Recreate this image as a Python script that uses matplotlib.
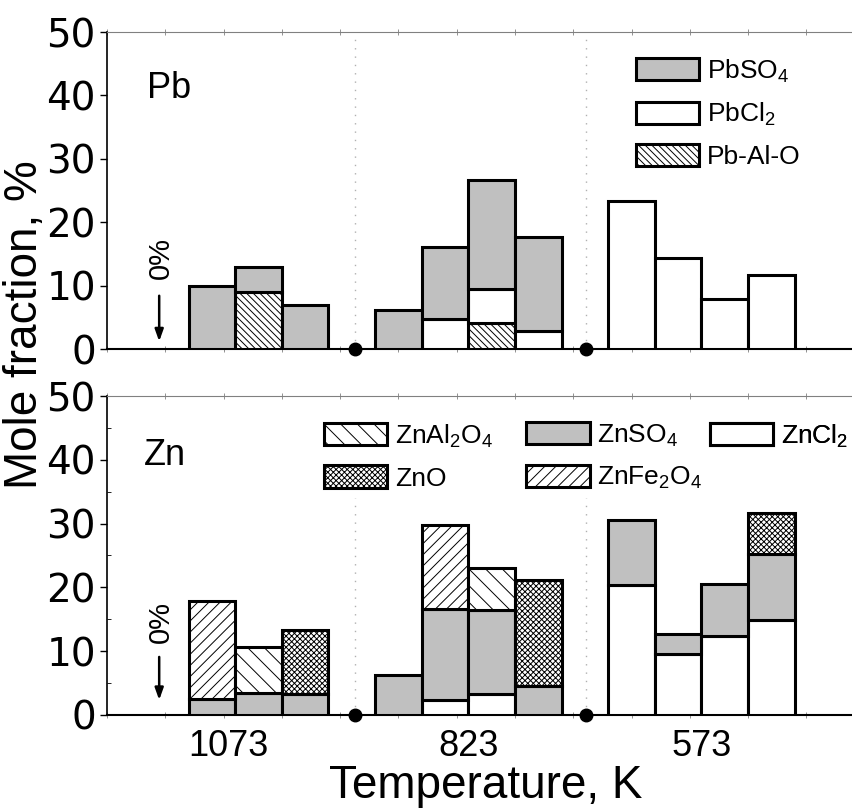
import matplotlib.pyplot as plt
import numpy as np
from matplotlib.patches import Patch

plt.rcParams['font.family'] = ['Liberation Sans', 'DejaVu Sans']
plt.rcParams['mathtext.fontset'] = 'custom'
plt.rcParams['mathtext.rm'] = 'Liberation Sans'
plt.rcParams['hatch.linewidth'] = 0.7

temperatures = ['1073', '823', '573']
bars_per_group = [3, 4, 4]

# lead phases, mole fraction (%) for each sample bar (stacked bottom -> top)
pb_alo = [0, 9.0, 0,   0, 0, 4.1, 0,   0, 0, 0, 0]
pb_cl2 = [0, 0, 0,     0, 4.7, 5.4, 2.9,   23.3, 14.4, 7.9, 11.6]
pb_so4 = [10.0, 4.0, 6.9,   6.2, 11.4, 17.2, 14.7,   0, 0, 0, 0]

# zinc phases
zn_cl2 = [0, 0, 0,     0, 2.4, 3.3, 0,   20.4, 9.5, 12.45, 14.9]
zn_so4 = [2.5, 3.5, 3.3,   6.2, 14.2, 13.1, 4.55,   10.1, 3.2, 8.15, 10.3]
zn_fe2o4 = [15.3, 0, 0,   0, 13.2, 0, 0,   0, 0, 0, 0]
zn_al2o4 = [0, 7.1, 0,   0, 0, 6.6, 0,   0, 0, 0, 0]
zn_o = [0, 0, 10.0,   0, 0, 0, 16.65,   0, 0, 0, 6.5]

# layout along the x axis (in bar widths)
group_left = [1.75, 5.75, 10.75]
separators = [5.32, 10.28]
label_x = [2.6, 7.75, 12.75]
x = np.concatenate([l + 0.5 + np.arange(n) for l, n in zip(group_left, bars_per_group)])

GREY = '#c0c0c0'
SO4 = dict(facecolor=GREY)
CL2 = dict(facecolor='white')
PBALO = dict(facecolor='white', hatch='\\' * 5)
ZNAL = dict(facecolor='white', hatch='\\\\')
ZNFE = dict(facecolor='white', hatch='///')
ZNO = dict(facecolor='white', hatch='xxxxxx')
EDGE = 2.2


def stack(ax, layers):
    bottom = np.zeros(len(x))
    for values, style in layers:
        v = np.asarray(values, float)
        m = v > 0
        ax.bar(x[m], v[m], width=1.0, bottom=bottom[m], edgecolor='black',
               linewidth=EDGE, zorder=3, **style)
        bottom += v


def style_axes(ax, minor_y):
    ax.set_xlim(0, 16)
    ax.set_ylim(0, 50)
    ax.spines['right'].set_visible(False)
    ax.spines['top'].set_color('#808080')
    ax.spines['left'].set_linewidth(1.2)
    ax.spines['bottom'].set_linewidth(1.5)
    ax.set_yticks(range(0, 51, 10))
    ax.tick_params(axis='y', which='major', direction='out', length=5, width=1,
                   labelsize=28, pad=3, labelfontfamily='DejaVu Sans')
    if minor_y:
        ax.set_yticks(range(5, 50, 10), minor=True)
        ax.tick_params(axis='y', which='minor', direction='in', length=3)
    ax.set_xticks(np.arange(0, 16, 1.25), minor=True)
    ax.tick_params(axis='x', which='minor', direction='inout', length=4,
                   color='#808080', top=True, bottom=True)
    ax.plot(separators, [0, 0], 'o', color='black', ms=9, clip_on=False, zorder=6)


def zero_marker(ax, y_text, y_from, y_to):
    ax.text(1.16, y_text, '0%', rotation=90, fontsize=21, ha='center', va='center')
    ax.annotate('', xy=(1.12, y_to), xytext=(1.12, y_from),
                arrowprops=dict(arrowstyle='-|>,head_length=0.7,head_width=0.25',
                                lw=1.8, color='black', shrinkA=0, shrinkB=0))


fig = plt.figure(figsize=(8.53, 8.09), dpi=100)
ax_pb = fig.add_axes([0.1254, 0.5686, 0.8746, 0.3918])
ax_zn = fig.add_axes([0.1254, 0.1162, 0.8746, 0.3943])

# --- Pb panel
style_axes(ax_pb, minor_y=False)
ax_pb.set_xticks([])
ax_pb.vlines(separators, 0, 49, colors='#b0b0b0', linestyles=(0, (1, 5)), lw=1, zorder=1)
stack(ax_pb, [(pb_alo, PBALO), (pb_cl2, CL2), (pb_so4, SO4)])
ax_pb.text(0.054, 0.792, 'Pb', transform=ax_pb.transAxes, fontsize=26, va='baseline')
zero_marker(ax_pb, 14.4, 8.4, 1.2)

kw = dict(frameon=False, fontsize=19, handlelength=2.4, handleheight=0.92,
          handletextpad=0.3, labelspacing=0.6, borderpad=0, borderaxespad=0,
          loc='upper left')
pb_handles = [Patch(edgecolor='black', linewidth=EDGE, label='PbSO$_4$', **SO4),
              Patch(edgecolor='black', linewidth=EDGE, label='PbCl$_2$', **CL2),
              Patch(edgecolor='black', linewidth=EDGE, label='Pb-Al-O', **PBALO)]
ax_pb.legend(handles=pb_handles, bbox_to_anchor=(0.709, 0.92), **kw)

# --- Zn panel
style_axes(ax_zn, minor_y=True)
ax_zn.set_xticks(label_x, temperatures)
ax_zn.tick_params(axis='x', which='major', length=0, labelsize=26, pad=10)
ax_zn.vlines(separators, 0, 34, colors='#b0b0b0', linestyles=(0, (1, 5)), lw=1, zorder=1)
stack(ax_zn, [(zn_cl2, CL2), (zn_so4, SO4), (zn_fe2o4, ZNFE), (zn_al2o4, ZNAL), (zn_o, ZNO)])
ax_zn.text(0.0496, 0.784, 'Zn', transform=ax_zn.transAxes, fontsize=26, va='baseline')
zero_marker(ax_zn, 14.5, 9.1, 2.35)

zn_columns = [
    ([('ZnAl$_2$O$_4$', ZNAL), ('ZnO', ZNO)], 0.291),
    ([('ZnSO$_4$', SO4), ('ZnFe$_2$O$_4$', ZNFE)], 0.562),
    ([('ZnCl$_2$', CL2)], 0.808),
]
for entries, xa in zn_columns:
    handles = [Patch(edgecolor='black', linewidth=EDGE, label=lab, **st) for lab, st in entries]
    leg = ax_zn.legend(handles=handles, bbox_to_anchor=(xa, 0.918), **kw)
    ax_zn.add_artist(leg)

fig.text(25 / 853, 1 - 325 / 809, 'Mole fraction, %', rotation=90,
         fontsize=33, ha='center', va='center')
fig.text(485.5 / 853, 1 - 798 / 809, 'Temperature, K', fontsize=33,
         ha='center', va='baseline')

fig.savefig('out.png', dpi=100)
